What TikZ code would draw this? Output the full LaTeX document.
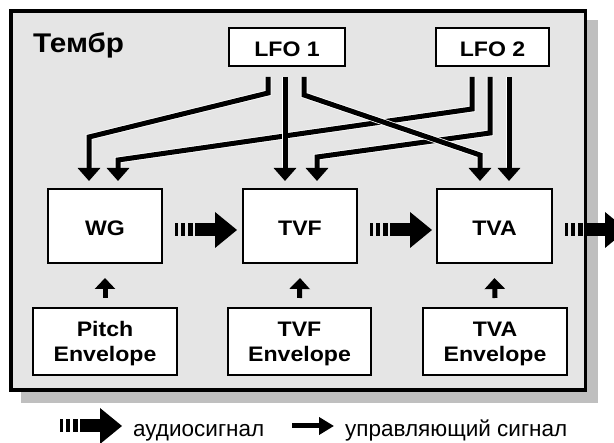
\documentclass[tikz,border=0pt]{standalone}
\usepackage{fontspec}
\setmainfont{Liberation Sans}
\newfontfamily\widesans[FakeStretch=1.1]{Liberation Sans}
\usetikzlibrary{arrows.meta,calc}

\definecolor{panelgray}{gray}{0.9}
\definecolor{shadowgray}{gray}{0.75}

\tikzset{
  block/.style={draw, line width=2pt, fill=white, inner sep=0pt, outer sep=0pt,
    font=\widesans\bfseries\fontsize{21}{25}\selectfont, text height=20pt, text depth=0pt},
  envblock/.style={draw, line width=2pt, fill=white, inner sep=0pt, outer sep=0pt,
    align=center, font=\widesans\bfseries\fontsize{21}{25}\selectfont},
  casing/.style={draw=white, line width=6.6pt, shorten >=12pt},
  ctrl/.style={line width=5pt, -{Triangle[width=22pt,length=13pt]}},
  ctrlup/.style={line width=5pt, -{Triangle[width=20pt,length=11pt]}},
  ctrllegend/.style={line width=5pt, -{Triangle[width=17pt,length=15pt]}},
  legendtext/.style={anchor=base west, inner sep=0pt, font=\fontsize{22.5}{27}\selectfont},
  pics/audioarrow/.style={code={
    \fill (0,-6.5) rectangle (2.5,6.5);
    \fill (6,-6.5) rectangle (10,6.5);
    \fill (12.5,-6.5) rectangle (18,6.5);
    \fill (20,-6.5) rectangle (40,6.5);
    \fill (40,-18) -- (62,0) -- (40,18) -- cycle;
  }}
}

% control line with a thin white casing so that crossings stay readable
\newcommand\ctrlarrow[1]{\draw[casing] #1; \draw[ctrl] #1;}

\begin{document}
\begin{tikzpicture}[x=1pt,y=-1pt]
\useasboundingbox (0,0) rectangle (614,443);
\clip (0,0) rectangle (614,443);

% panel with drop shadow
\fill[shadowgray] (21,20) rectangle (598,403);
\node[draw, line width=3.4pt, fill=panelgray, inner sep=0pt, outer sep=0pt,
      minimum width=574.5pt, minimum height=379pt] (panel) at (298.25,200.5) {};
\node[anchor=base west, inner sep=0pt, font=\widesans\bfseries\fontsize{27}{30}\selectfont]
  (title) at (33,53) {Тембр};

% LFOs
\node[block, minimum width=116pt, minimum height=38pt] (lfo1) at (287,47) {LFO 1};
\node[block, minimum width=113pt, minimum height=38pt] (lfo2) at (492.5,47) {LFO 2};

% signal chain
\node[block, minimum width=114pt, minimum height=74pt] (wg)  at (105,226)   {WG};
\node[block, minimum width=114pt, minimum height=74pt] (tvf) at (300,226)   {TVF};
\node[block, minimum width=115pt, minimum height=74pt] (tva) at (494.5,226) {TVA};

% envelopes
\node[envblock, minimum width=144pt, minimum height=67pt] (penv) at (105,341.5)
  {\rule{0pt}{20pt}Pitch\\Envelope};
\node[envblock, minimum width=143pt, minimum height=67pt] (fenv) at (299.5,341.5)
  {\rule{0pt}{20pt}TVF\\Envelope};
\node[envblock, minimum width=144pt, minimum height=67pt] (aenv) at (495,341.5)
  {\rule{0pt}{20pt}TVA\\Envelope};

% LFO 2 modulation lines
\ctrlarrow{($(lfo2.south)+(-20.5,11)$) -- ++(0,32) -- ($(wg.north)+(13,-29)$) -- ($(wg.north)+(13,-8)$)}
\ctrlarrow{($(lfo2.south)+(-2.5,11)$) -- ++(0,56) -- ($(tvf.north)+(17,-32)$) -- ($(tvf.north)+(17,-8)$)}
\ctrlarrow{($(lfo2.south)+(16.5,11)$) -- ($(tva.north)+(14.5,-8)$)}

% LFO 1 modulation lines
\ctrlarrow{($(lfo1.south)+(-19,11)$) -- ++(0,16) -- ($(wg.north)+(-16,-52)$) -- ($(wg.north)+(-16,-8)$)}
\ctrlarrow{($(lfo1.south)+(-2,11)$) -- ($(tvf.north)+(-15,-8)$)}
\ctrlarrow{($(lfo1.south)+(17,11)$) -- ++(0,18) -- ($(tva.north)+(-14.5,-34)$) -- ($(tva.north)+(-14.5,-8)$)}

% envelope control
\draw[ctrlup] ($(penv.north)+(0,-10)$) -- ($(wg.south)+(0,15)$);
\draw[ctrlup] ($(fenv.north)+(0,-10)$) -- ($(tvf.south)+(0,15)$);
\draw[ctrlup] ($(aenv.north)+(0,-10)$) -- ($(tva.south)+(0,15)$);

% audio path
\pic at ($(wg.east)+(13,4)$) {audioarrow};
\pic at ($(tvf.east)+(13,4)$) {audioarrow};
\pic at ($(tva.east)+(13,4)$) {audioarrow};

% legend
\pic at (60,426) {audioarrow};
\node[legendtext] (laudio) at (133,436.5) {аудиосигнал};
\coordinate (lc1) at (292,426);
\coordinate (lc2) at (334,426);
\draw[ctrllegend] (lc1) -- (lc2);
\node[legendtext] (lctrl) at (345,436.5) {управляющий сигнал};
\end{tikzpicture}
\end{document}
